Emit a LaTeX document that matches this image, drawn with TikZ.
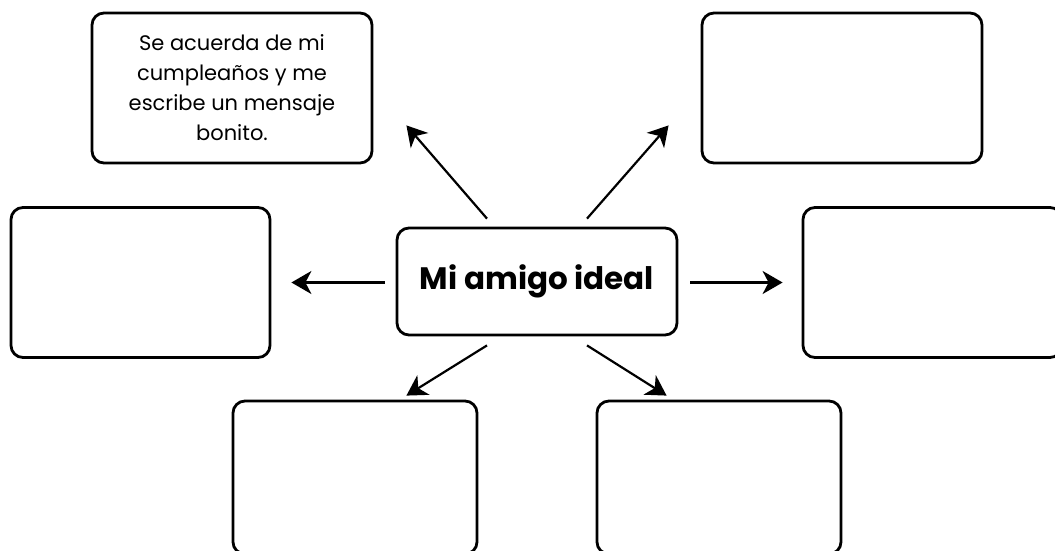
\documentclass[tikz,border=0pt]{standalone}
\usepackage{fontspec}
\setmainfont{Poppins}
\usetikzlibrary{calc}
\usetikzlibrary{arrows.meta}

\begin{document}
\begin{tikzpicture}[x=1pt, y=1pt,
  box/.style={draw, line width=2.8pt, rounded corners=12pt, fill=white, inner sep=0pt, align=center},
  arr/.style={line width=2.2pt, -{Stealth[length=20pt, width=23pt, inset=6pt]}}]
\useasboundingbox (0,0) rectangle (1055,550);
\clip (0,0) rectangle (1055,550);
\node[box, minimum width=280, minimum height=107, font=\bfseries\fontsize{31}{36}\selectfont] (main) at (537,268.5) {Mi amigo ideal};
\node[box, minimum width=280, minimum height=150, font=\fontsize{21}{30}\selectfont] (boxNW) at (232,462) {Se acuerda de mi\\cumpleaños y me\\escribe un mensaje\\bonito.};
\node[box, minimum width=280, minimum height=150] (boxNE) at (842,462) {};
\node[box, minimum width=259, minimum height=150] (boxW) at (140.5,267.5) {};
\node[box, minimum width=259, minimum height=150] (boxE) at (932.5,267.5) {};
\node[box, minimum width=244, minimum height=153] (boxSW) at (355,72.5) {};
\node[box, minimum width=244, minimum height=153] (boxSE) at (719,72.5) {};
% arrow ends
\coordinate (s1) at ($(main.north)+(-50,8)$);
\coordinate (e1) at ($(boxNW.south east)+(33,39)$);
\coordinate (s2) at ($(main.north)+(50,8)$);
\coordinate (e2) at ($(boxNE.south west)+(-32,39)$);
\coordinate (s3) at ($(main.west)+(-11,-1)$);
\coordinate (e3) at ($(boxW.east)+(20,0)$);
\coordinate (s4) at ($(main.east)+(12,-1)$);
\coordinate (e4) at ($(boxE.west)+(-19,0)$);
\coordinate (s5) at ($(main.south)+(-50,-9)$);
\coordinate (e5) at ($(boxSW.north east)+(-72,4)$);
\coordinate (s6) at ($(main.south)+(50,-9)$);
\coordinate (e6) at ($(boxSE.north west)+(71,4)$);
\foreach \i in {1,...,6}
  \draw[arr] (s\i) -- (e\i);
\end{tikzpicture}
\end{document}
